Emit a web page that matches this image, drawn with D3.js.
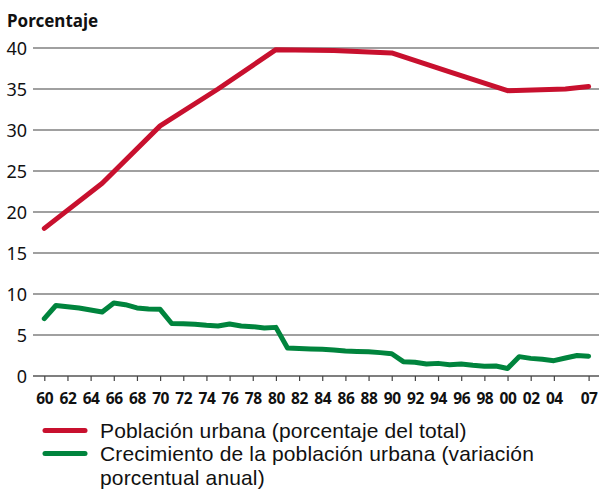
<!DOCTYPE html>
<html>
<head>
<meta charset="utf-8">
<script src="https://cdn.jsdelivr.net/npm/d3@7"></script>
<style>
html,body{margin:0;padding:0;background:#fff;}
svg{display:block;font-family:"Noto Sans",sans-serif;}
</style>
</head>
<body>
<svg id="chart" width="599" height="490"></svg>
<script>
const urbanYears = [1960,1965,1970,1975,1980,1985,1990,1995,2000,2005,2007];
const urbanShare = [18.0,23.5,30.5,35.0,39.8,39.7,39.4,37.1,34.8,35.0,35.3];

const growthYears = d3.range(1960, 2008);
const growthRate = [7.0,8.6,8.45,8.3,8.05,7.8,8.9,8.7,8.3,8.17,8.13,
  6.4,6.38,6.3,6.18,6.1,6.34,6.1,6.02,5.85,5.93,
  3.42,3.35,3.3,3.25,3.17,3.05,3.0,2.97,2.85,2.72,
  1.75,1.67,1.46,1.54,1.38,1.46,1.3,1.18,1.22,0.92,
  2.36,2.15,2.03,1.87,2.2,2.5,2.42];

const yTicks = [0,5,10,15,20,25,30,35,40];
const xTickYears = [1960,1962,1964,1966,1968,1970,1972,1974,1976,1978,1980,1982,1984,1986,1988,1990,1992,1994,1996,1998,2000,2002,2004,2007];
const xTickLabels = ["60","62","64","66","68","70","72","74","76","78","80","82","84","86","88","90","92","94","96","98","00","02","04","07"];

const yTitle = "Porcentaje";
const legendLabels = [
  ["Población urbana (porcentaje del total)"],
  ["Crecimiento de la población urbana (variación", "porcentual anual)"]
];
const colors = ["#c8102e", "#00843d"];

const svg = d3.select("#chart");
const x = d3.scaleLinear().domain([1960, 2007]).range([44.3, 588.6]);
const y = d3.scaleLinear().domain([0, 40]).range([376, 48]);

// gridlines
svg.append("g").selectAll("line").data(yTicks.filter(d => d > 0)).join("line")
  .attr("x1", 33).attr("x2", 599)
  .attr("y1", d => y(d)).attr("y2", d => y(d))
  .attr("stroke", "#808080").attr("stroke-width", 1.6);

// y labels
svg.append("g").selectAll("text").data(yTicks).join("text")
  .attr("x", 27).attr("y", d => y(d) + 6.5)
  .attr("text-anchor", "end")
  .attr("font-size", 18).attr("fill", "#111")
  .text(d => d);

svg.append("text").attr("x", 7).attr("y", 27)
  .attr("font-size", 17).attr("font-weight", "bold").attr("fill", "#111")
  .text(yTitle);

// x axis
const xAxis = d3.axisBottom(x).tickValues(xTickYears)
  .tickFormat((d, i) => xTickLabels[i]).tickSize(5).tickSizeOuter(0);
const gx = svg.append("g").attr("transform", `translate(0,${y(0)})`).call(xAxis);
gx.select(".domain").attr("d", `M33,0H599`).attr("stroke", "#555").attr("stroke-width", 1.6);
gx.selectAll(".tick line").attr("stroke", "#444").attr("stroke-width", 1.2);
gx.selectAll(".tick text").attr("font-size", 15.5).attr("font-weight", "bold")
  .attr("font-family", "'Noto Sans',sans-serif").attr("fill", "#111")
  .attr("letter-spacing", -0.4).attr("dy", 0).attr("y", 28);

const line = d3.line().x(d => x(d[0])).y(d => y(d[1]));

svg.append("path").datum(growthYears.map((yr, i) => [yr, growthRate[i]]))
  .attr("d", line).attr("fill", "none").attr("stroke", colors[1])
  .attr("stroke-width", 5).attr("stroke-linejoin", "round").attr("stroke-linecap", "round");

svg.append("path").datum(urbanYears.map((yr, i) => [yr, urbanShare[i]]))
  .attr("d", line).attr("fill", "none").attr("stroke", colors[0])
  .attr("stroke-width", 5).attr("stroke-linejoin", "round").attr("stroke-linecap", "round");

// legend
const lg = svg.append("g");
const legendY = [430.5, 453.5];
legendLabels.forEach((lines, i) => {
  lg.append("line").attr("x1", 45).attr("x2", 85)
    .attr("y1", legendY[i]).attr("y2", legendY[i])
    .attr("stroke", colors[i]).attr("stroke-width", 5).attr("stroke-linecap", "round");
  lines.forEach((t, j) => {
    lg.append("text").attr("x", 100).attr("y", legendY[i] + 7.5 + j * 23.5)
      .attr("font-family", "'Liberation Sans',sans-serif")
      .attr("font-size", 21).attr("letter-spacing", 0.15).attr("fill", "#111").text(t);
  });
});
</script>
</body>
</html>
